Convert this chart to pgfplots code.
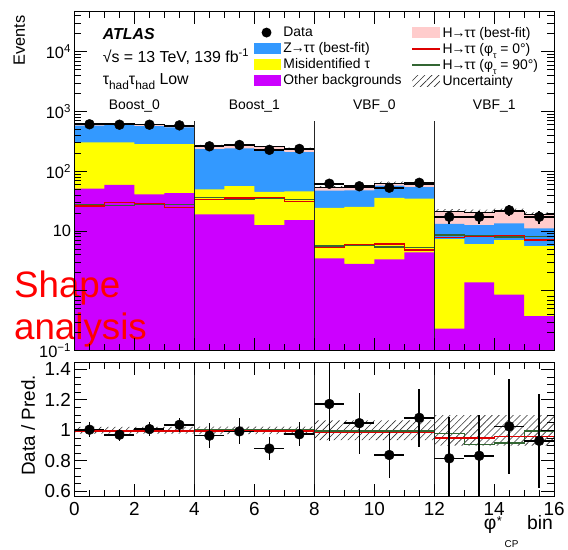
\documentclass[border=0pt]{standalone}
\usepackage{pgfplots}
\usepackage{pgfplotstable}
\usepackage{fontspec}
\setmainfont{Liberation Sans}
\pgfplotsset{compat=1.18}
\usepgfplotslibrary{fillbetween}
\usetikzlibrary{patterns.meta}

\definecolor{zttblue}{RGB}{51,153,255}
\definecolor{fakeyellow}{RGB}{255,255,0}
\definecolor{othermag}{RGB}{204,0,255}
\definecolor{higgspink}{RGB}{255,204,204}
\definecolor{cpred}{RGB}{221,0,0}
\definecolor{cpgreen}{RGB}{51,102,51}

\newcommand{\htt}{H\kern-1pt→\kern-1pt ττ}

% Expected yields per phi*_CP bin (x = left bin edge; last row closes the step)
\pgfplotstableread{
x  other  fake   ztt    higgs  unc
0  51     253    276    27     0.02
1  59     245    286    28     0.02
2  41     244    282    28     0.02
3  43     242    254    26     0.02
4  18.9   30.8   185    35     0.025
5  18.9   37.7   185    35     0.025
6  12.5   32.5   174    36     0.025
7  15.2   30.8   163    33     0.025
8  3.5    20.9   22.9   5.4    0.065
9  2.82   22.6   22.3   5.8    0.065
10 3.37   32.3   21.6   5.7    0.065
11 4.4    30.4   19.2   5.0    0.065
12 0.232  7.07   5.8    8.1    0.10
13 1.38   4.67   6.45   8.3    0.10
14 0.86   6.2    6.34   8.2    0.10
15 0.377  5.22   5.5    7.5    0.10
16 0.377  5.22   5.5    7.5    0.10
}\yields
\pgfplotstablecreatecol[create col/expr={\thisrow{other}+\thisrow{fake}}]{s2}{\yields}
\pgfplotstablecreatecol[create col/expr={\thisrow{s2}+\thisrow{ztt}}]{s3}{\yields}
\pgfplotstablecreatecol[create col/expr={\thisrow{s3}+\thisrow{higgs}}]{s4}{\yields}
\pgfplotstablecreatecol[create col/expr={\thisrow{s4}*(1+\thisrow{unc})}]{up}{\yields}
\pgfplotstablecreatecol[create col/expr={\thisrow{s4}*(1-\thisrow{unc})}]{lo}{\yields}

% H->tautau signal for the two CP hypotheses
\pgfplotstableread{
x  red    green
0  26.3   28
1  30     27
2  29     28
3  25     28
4  33.9   36
5  35.7   34
6  36.6   35
7  31.4   34
8  5.27   5.6
9  6.0    5.65
10 6.05   5.4
11 4.82   5.27
12 7.74   8.55
13 8.2    8.5
14 8.45   7.9
15 7.06   8.0
16 7.06   8.0
}\signal

% Observed events
\pgfplotstableread{
x     data   err   xe
0.5   610    24.7  0.5
1.5   600    24.5  0.5
2.5   600    24.5  0.5
3.5   585    24.2  0.5
4.5   261    16.2  0.5
5.5   275    16.6  0.5
6.5   228    15.1  0.5
7.5   236    15.4  0.5
8.5   61.8   7.9   0.5
9.5   56     7.5   0.5
10.5  53     7.3   0.5
11.5  64     8.0   0.5
12.5  17.3   4.2   0.5
13.5  17.3   4.2   0.5
14.5  22.2   4.7   0.5
15.5  17.3   4.2   0.5
}\obs

% Data / prediction
\pgfplotstableread{
x     r      rerr  xe
0.5   1.004  0.05  0.5
1.5   0.971  0.04  0.5
2.5   1.008  0.045 0.5
3.5   1.036  0.045 0.5
4.5   0.965  0.08  0.5
5.5   0.993  0.085 0.5
6.5   0.880  0.076 0.5
7.5   0.974  0.08  0.5
8.5   1.173  0.24  0.5
9.5   1.047  0.20  0.5
10.5  0.838  0.15  0.5
11.5  1.082  0.19  0.5
12.5  0.816  0.27  0.5
13.5  0.833  0.27  0.5
14.5  1.026  0.31  0.5
15.5  0.931  0.31  0.5
}\ratio

% Signal hypotheses relative to the prediction, and relative uncertainty
\pgfplotstableread{
x  rred   rgreen  unc
0  0.995  1.0     0.022
1  0.995  1.0     0.022
2  0.995  1.0     0.022
3  0.995  1.0     0.022
4  0.995  1.003   0.025
5  0.995  1.003   0.025
6  0.995  1.003   0.025
7  0.995  1.003   0.025
8  0.985  0.995   0.065
9  0.985  0.995   0.065
10 0.987  0.995   0.065
11 0.987  0.995   0.065
12 0.95   0.978   0.10
13 0.95   0.909   0.10
14 0.96   0.917   0.10
15 0.96   0.995   0.10
16 0.96   0.995   0.10
}\rlines
\pgfplotstablecreatecol[create col/expr={1+\thisrow{unc}}]{uhi}{\rlines}
\pgfplotstablecreatecol[create col/expr={1-\thisrow{unc}}]{ulo}{\rlines}

\tikzset{hatch/.style={pattern={Lines[angle=45,distance=5pt,line width=0.6pt]},pattern color=black!80}}

\pgfplotsset{
  atlasframe/.style={
    scale only axis, width=483pt,
    xmin=0, xmax=16,
    axis line style={line width=0.8pt},
    every tick/.style={black, line width=0.7pt},
    major tick length=13pt, minor tick length=7pt,
    tick align=inside, xtick pos=both, ytick pos=both,
    xtick={0,2,...,16}, minor x tick num=3,
    /pgf/number format/assume math mode=true,
    axis on top,
  },
  boxleg/.style={legend image code/.code={\fill[draw=none,##1] (0pt,-5.5pt) rectangle (28pt,5.5pt);}},
  lineleg/.style={legend image code/.code={\draw[line width=1.4pt,##1] (0pt,0pt) -- (28pt,0pt);}},
  dotleg/.style={legend image code/.code={\fill[draw=none] (13pt,0pt) circle (5pt);}},
  hatchleg/.style={legend image code/.code={\fill[draw=none,hatch] (0pt,-5.5pt) rectangle (28pt,5.5pt);}},
  legfont/.style={legend style={draw=none, fill=none, font=\fontsize{14}{16}\selectfont,
     row sep=0.6pt, inner sep=0pt, legend cell align=left, anchor=north west}},
}

\begin{document}
\begin{tikzpicture}[x=1pt,y=1pt]
\path (0,0) rectangle (568,553);

% ---------------- upper panel: event yields ----------------
\begin{axis}[atlasframe,
  at={(75pt,200pt)}, anchor=south west, height=342pt,
  ymode=log, ymin=0.1, ymax=4.8e4,
  xticklabels={},
  ytick={0.1,1,10,100,1000,10000},
  yticklabels={10\textsuperscript{−1},,10,10\textsuperscript{2},10\textsuperscript{3},10\textsuperscript{4}},
  minor ytick={0.2,0.3,...,0.9,2,3,...,9,20,30,...,90,200,300,...,900,2000,3000,...,9000,20000,30000,40000},
  yticklabel style={font=\fontsize{16.5}{18}\selectfont},
  legfont,
  legend style={at={(0.373,0.959)}},
]
% stacked backgrounds and signal, each filled down to the lower edge
\addplot[const plot, fill=higgspink, draw=none, forget plot] table[x=x,y=s4]{\yields}
  -- (axis cs:16,0.1) -- (axis cs:0,0.1) -- cycle;
\addplot[const plot, fill=zttblue, draw=none, forget plot] table[x=x,y=s3]{\yields}
  -- (axis cs:16,0.1) -- (axis cs:0,0.1) -- cycle;
\addplot[const plot, fill=fakeyellow, draw=none, forget plot] table[x=x,y=s2]{\yields}
  -- (axis cs:16,0.1) -- (axis cs:0,0.1) -- cycle;
\addplot[const plot, fill=othermag, draw=none, forget plot] table[x=x,y=other]{\yields}
  -- (axis cs:16,0.1) -- (axis cs:0,0.1) -- cycle;

\addplot[const plot, name path=uncup, draw=none, forget plot] table[x=x,y=up]{\yields};
\addplot[const plot, name path=unclo, draw=none, forget plot] table[x=x,y=lo]{\yields};
\addplot[hatch, draw=none, forget plot] fill between[of=uncup and unclo];
\addplot[const plot, black, line width=0.9pt, forget plot] table[x=x,y=s4]{\yields};

\addplot[const plot, cpgreen, line width=1.3pt, forget plot] table[x=x,y=green]{\signal};
\addplot[const plot, cpred, line width=1.3pt, forget plot] table[x=x,y=red]{\signal};

\addplot[black!85, line width=0.8pt, forget plot] coordinates {(4,0.1) (4,700)};
\addplot[black!85, line width=0.8pt, forget plot] coordinates {(8,0.1) (8,700)};
\addplot[black!85, line width=0.8pt, forget plot] coordinates {(12,0.1) (12,700)};

\addplot[only marks, mark=*, mark size=5pt, black, forget plot,
  error bars/.cd, x dir=both, x explicit, y dir=both, y explicit,
  error mark=none, error bar style={line width=1.6pt, black}]
  table[x=x, y=data, x error=xe, y error=err]{\obs};

\node[font=\fontsize{14}{16}\selectfont] at (rel axis cs:0.125,0.719) {Boost\_0};
\node[font=\fontsize{14}{16}\selectfont] at (rel axis cs:0.375,0.719) {Boost\_1};
\node[font=\fontsize{14}{16}\selectfont] at (rel axis cs:0.625,0.719) {VBF\_0};
\node[font=\fontsize{14}{16}\selectfont] at (rel axis cs:0.875,0.719) {VBF\_1};

\addlegendimage{dotleg, black}
\addlegendentry{Data}
\addlegendimage{boxleg, fill=zttblue}
\addlegendentry{Z\kern-1pt→\kern-1pt ττ (best-fit)}
\addlegendimage{boxleg, fill=fakeyellow}
\addlegendentry{Misidentified τ}
\addlegendimage{boxleg, fill=othermag}
\addlegendentry{Other backgrounds}
\end{axis}

% second legend column
\begin{axis}[at={(75pt,200pt)}, anchor=south west, scale only axis,
  width=483pt, height=342pt, hide axis, xmin=0, xmax=1, ymin=0, ymax=1,
  legfont, legend style={at={(0.702,0.959)}}]
\addplot[draw=none, forget plot] coordinates {(0,0) (1,1)};
\addlegendimage{boxleg, fill=higgspink}
\addlegendentry{\htt\ (best-fit)}
\addlegendimage{lineleg, cpred}
\addlegendentry{\htt\ (φ\raisebox{-0.7ex}{\fontsize{9}{10}\selectfont τ} = 0°)}
\addlegendimage{lineleg, cpgreen}
\addlegendentry{\htt\ (φ\raisebox{-0.7ex}{\fontsize{9}{10}\selectfont τ} = 90°)}
\addlegendimage{hatchleg}
\addlegendentry{Uncertainty}
\end{axis}

% ---------------- lower panel: data / prediction ----------------
\begin{axis}[atlasframe,
  at={(75pt,53pt)}, anchor=south west, height=135pt,
  ymin=0.565, ymax=1.445,
  ytick={0.6,0.8,1,1.2,1.4}, minor y tick num=3,
  ticklabel style={font=\fontsize{19}{20}\selectfont},
  xticklabel style={yshift=-2pt},
  yticklabel style={/pgf/number format/fixed},
]
\addplot[const plot, name path=rhi, draw=none] table[x=x,y=uhi]{\rlines};
\addplot[const plot, name path=rlo, draw=none] table[x=x,y=ulo]{\rlines};
\addplot[hatch, draw=none] fill between[of=rhi and rlo];

\addplot[const plot, cpgreen, line width=1.3pt] table[x=x,y=rgreen]{\rlines};
\addplot[const plot, cpred, line width=1.3pt] table[x=x,y=rred]{\rlines};

\addplot[black!85, line width=0.8pt] coordinates {(4,0.5) (4,1.5)};
\addplot[black!85, line width=0.8pt] coordinates {(8,0.5) (8,1.5)};
\addplot[black!85, line width=0.8pt] coordinates {(12,0.5) (12,1.5)};

\addplot[only marks, mark=*, mark size=5pt, black,
  error bars/.cd, x dir=both, x explicit, y dir=both, y explicit,
  error mark=none, error bar style={line width=1.6pt, black}]
  table[x=x, y=r, x error=xe, y error=rerr]{\ratio};
\end{axis}

% ---------------- labels ----------------
\node[anchor=base west, font=\fontsize{16}{18}\selectfont\bfseries\itshape] at (100,513.5) {ATLAS};
\node[anchor=base west, font=\fontsize{16}{18}\selectfont] at (100,490) {√s = 13 TeV, 139 fb\textsuperscript{-1}};
\node[anchor=base west, font=\fontsize{16}{18}\selectfont] at (100,468)
  {τ\raisebox{-0.55ex}{\fontsize{12}{13}\selectfont had}τ\raisebox{-0.55ex}{\fontsize{12}{13}\selectfont had} Low};

\node[rotate=90, anchor=base east, font=\fontsize{16.5}{18}\selectfont] at (25,541) {Events};
\node[rotate=90, anchor=base, font=\fontsize{19}{21}\selectfont] at (35,124.5) {Data / Pred.};
\node[anchor=base west, inner sep=0pt, font=\fontsize{19.5}{21}\selectfont] at (487,19.5)
  {φ\kern0.5pt\raisebox{0.45ex}{\fontsize{13}{14}\selectfont *}};
\node[anchor=base west, inner sep=0pt, font=\fontsize{10}{11}\selectfont] at (508,2) {CP};
\node[anchor=base east, inner sep=0pt, font=\fontsize{19.5}{21}\selectfont] at (557,20) {bin};

\node[anchor=base west, text=red, font=\fontsize{37}{40}\selectfont, inner sep=0pt] at (14,253) {Shape};
\node[anchor=base west, text=red, font=\fontsize{37}{40}\selectfont, inner sep=0pt] at (14,211) {analysis};
\end{tikzpicture}
\end{document}
